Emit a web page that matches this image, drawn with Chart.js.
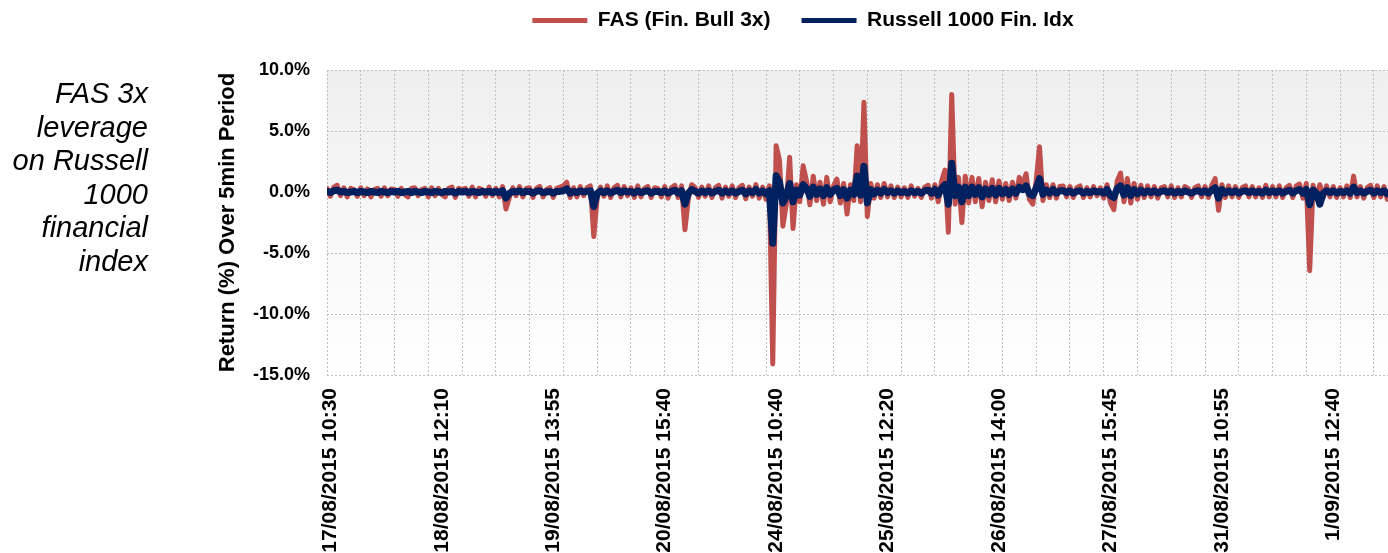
<!DOCTYPE html>
<html>
<head>
<meta charset="utf-8">
<script src="https://cdn.jsdelivr.net/npm/chart.js"></script>
<style>
  body { margin: 0; overflow: hidden; background: #fff; }
</style>
</head>
<body>
<canvas id="returns" width="1411" height="553"></canvas>
<script>
//Tick labels (one every 33 samples, samples are 15min apart)
const xLabels = ['17/08/2015 10:30', '18/08/2015 12:10', '19/08/2015 13:55', '20/08/2015 15:40', '24/08/2015 10:40',
    '25/08/2015 12:20', '26/08/2015 14:00', '27/08/2015 15:45', '31/08/2015 10:55', '1/09/2015 12:40'];
const gridEvery = 10;
const labelEvery = 33;
const labelOffset = 1;

//FAS (Fin. Bull 3x) return in %
const fas = [
    0.3, -0.35, 0.4, 0.55, -0.3, 0.35, -0.4, 0.3, 0.2, -0.35,
    0.35, -0.3, 0.25, -0.4, 0.2, 0.3, -0.35, 0.35, -0.3, 0.25,
    0.2, -0.35, 0.3, -0.2, -0.4, 0.3, 0.35, -0.3, 0.2, 0.3,
    -0.4, 0.35, -0.3, 0.3, -0.2, -0.4, 0.3, 0.4, -0.45, 0.3,
    0.2, 0.3, -0.35, 0.4, -0.4, 0.3, 0.2, -0.35, 0.4, -0.3,
    0.3, -0.4, 0.45, -1.4, -0.45, 0.35, -0.3, 0.45, -0.4, 0.3,
    0.35, -0.45, 0.3, 0.45, -0.4, 0.2, 0.35, -0.45, 0.3, 0.4,
    0.5, 0.8, -0.45, 0.35, -0.4, 0.45, -0.3, 0.35, 0.5, -3.65,
    -0.5, 0.4, -0.35, 0.5, -0.45, 0.35, 0.55, -0.4, 0.45, -0.3,
    0.35, -0.45, 0.5, -0.4, 0.3, 0.45, -0.45, 0.35, 0.3, -0.4,
    0.45, -0.5, 0.35, 0.55, -0.45, 0.5, -3.1, -0.5, 0.6, 0.35,
    -0.45, 0.4, -0.35, 0.5, -0.45, 0.35, 0.55, -0.5, 0.4, -0.35,
    0.5, -0.45, 0.35, 0.55, -0.55, 0.4, -0.35, 0.6, -0.5, 0.4,
    -0.6, 0.5, -14.1, 3.8, 2.6, -2.8, -1.0, 2.85, -3.0, 0.6,
    -0.8, 2.15, 0.9, -1.05, 1.3, -0.7, 0.8, -1.0, 1.2, -0.8,
    0.5, 1.05, -0.9, 0.7, -1.8, 0.6, -0.7, 3.8, -0.8, 7.35,
    -2.0, 0.7, -0.5, 0.6, -0.45, 0.7, -0.4, 0.5, -0.45, 0.4,
    -0.4, 0.35, -0.45, 0.5, -0.35, 0.3, -0.45, 0.4, 0.55, -0.5,
    0.6, -0.8, 0.9, 1.8, -3.3, 8.0, -1.0, 1.2, -2.5, 1.3,
    -0.9, 1.2, -0.8, 1.1, -1.2, 0.8, -0.7, 1.0, -0.8, 0.9,
    -0.6, 0.7, -0.7, 0.8, -0.5, 1.2, 0.6, 1.5, -0.6, -1.0,
    0.9, 3.7, -0.7, 0.6, -0.45, 0.6, -0.5, 0.45, 0.5, -0.4,
    0.45, -0.45, 0.35, 0.5, -0.45, 0.35, -0.4, 0.45, -0.3, 0.35,
    -0.5, 0.6, -0.9, -1.45, 0.9, 1.55, -0.8, 1.1, -0.9, 0.7,
    -0.6, 0.55, -0.45, 0.5, -0.4, 0.45, -0.5, 0.35, 0.45, -0.4,
    0.5, -0.45, 0.35, -0.4, 0.45, 0.3, -0.45, 0.35, 0.5, -0.4,
    0.45, -0.45, 0.55, 1.1, -1.5, 0.6, -0.45, 0.5, -0.4, 0.45,
    -0.45, 0.35, 0.5, -0.4, 0.45, -0.4, 0.35, -0.45, 0.55, -0.4,
    0.45, -0.4, 0.5, -0.45, 0.35, 0.55, -0.45, 0.5, 0.65, -0.5,
    0.7, -6.45, 0.55, -0.5, 0.6, -0.45, 0.5, -0.4, 0.45, -0.45,
    0.35, -0.4, 0.5, -0.45, 1.3, -0.4, 0.45, -0.5, 0.35, 0.55,
    -0.45, 0.5, -0.4, 0.45, -0.6, 0.35, 0.5, -0.65, 0.45, -0.75,
    0.35, -0.5
];

//Russell 1000 Fin. Idx return in %
const r1000 = [
    0.05, -0.05, 0.1, 0.15, 0.0, 0.05, -0.05, 0.0, 0.05, -0.05,
    0.05, 0.0, -0.05, 0.05, 0.0, -0.05, 0.05, 0.0, -0.05, 0.05,
    0.0, 0.05, -0.05, 0.0, 0.05, -0.05, 0.05, 0.0, -0.05, 0.05,
    0.0, -0.05, 0.05, 0.0, -0.05, 0.05, 0.0, 0.05, -0.1, 0.05,
    0.0, 0.05, -0.05, 0.05, 0.0, -0.05, 0.05, 0.0, 0.05, -0.05,
    0.05, -0.05, 0.1, -0.5, -0.1, 0.05, 0.0, 0.1, -0.05, 0.05,
    0.05, -0.1, 0.05, 0.1, -0.05, 0.0, 0.05, -0.1, 0.05, 0.05,
    0.1, 0.25, -0.1, 0.05, -0.05, 0.1, 0.0, 0.05, 0.1, -1.2,
    -0.1, 0.1, -0.05, 0.1, -0.1, 0.05, 0.15, -0.05, 0.1, 0.0,
    0.05, -0.1, 0.1, -0.05, 0.05, 0.1, -0.1, 0.05, 0.05, -0.05,
    0.1, -0.1, 0.05, 0.15, -0.1, 0.1, -1.0, -0.1, 0.2, 0.05,
    -0.1, 0.1, -0.05, 0.1, -0.1, 0.05, 0.15, -0.1, 0.1, -0.05,
    0.1, -0.1, 0.05, 0.15, -0.15, 0.1, -0.05, 0.2, -0.1, 0.1,
    -0.15, 0.1, -4.2, 1.33, 0.8, -0.9, -0.3, 0.7, -0.8, 0.15,
    -0.25, 0.6, 0.3, -0.35, 0.4, -0.2, 0.25, -0.3, 0.35, -0.2,
    0.15, 0.3, -0.3, 0.2, -0.5, 0.15, -0.2, 1.3, -0.25, 2.1,
    -0.9, 0.2, -0.15, 0.15, -0.1, 0.2, -0.05, 0.1, -0.1, 0.1,
    -0.05, 0.05, -0.1, 0.1, -0.05, 0.05, -0.1, 0.1, 0.15, -0.1,
    0.2, -0.25, 0.3, 0.6, -1.0, 2.35, -0.3, 0.4, -0.8, 0.4,
    -0.3, 0.4, -0.2, 0.35, -0.4, 0.25, -0.2, 0.3, -0.25, 0.3,
    -0.15, 0.2, -0.2, 0.25, -0.1, 0.4, 0.2, 0.5, -0.15, -0.3,
    0.3, 1.1, -0.2, 0.15, -0.1, 0.2, -0.1, 0.1, 0.1, -0.05,
    0.1, -0.1, 0.05, 0.1, -0.1, 0.05, -0.05, 0.1, 0.0, 0.05,
    -0.1, 0.2, -0.3, -0.45, 0.3, 0.5, -0.25, 0.35, -0.3, 0.2,
    -0.15, 0.15, -0.1, 0.1, -0.05, 0.1, -0.1, 0.05, 0.1, -0.05,
    0.1, -0.1, 0.05, -0.05, 0.1, 0.0, -0.1, 0.05, 0.1, -0.05,
    0.1, -0.1, 0.15, 0.35, -0.5, 0.2, -0.1, 0.1, -0.05, 0.1,
    -0.1, 0.05, 0.1, -0.05, 0.1, -0.05, 0.05, -0.1, 0.15, -0.05,
    0.1, -0.05, 0.1, -0.1, 0.05, 0.15, -0.1, 0.1, 0.2, -0.1,
    0.2, -1.05, 0.15, -0.1, -1.0, -0.1, 0.1, -0.05, 0.1, -0.1,
    0.05, -0.05, 0.1, -0.1, 0.4, -0.05, 0.1, -0.1, 0.05, 0.15,
    -0.1, 0.1, -0.05, 0.1, -0.15, 0.05, 0.1, -0.2, 0.1, -0.2,
    0.05, -0.1
];

const sideNote = ['FAS 3x', 'leverage', 'on Russell', '1000', 'financial', 'index'];

Chart.defaults.font.family = '"Liberation Sans", Arial, sans-serif';
Chart.defaults.color = '#000';

//Grey fade behind the plot area
const plotBackground = {
    id: 'plotBackground',
    beforeDraw: function (chart) {
        const a = chart.chartArea;
        const ctx = chart.ctx;
        const g = ctx.createLinearGradient(0, a.top, 0, a.bottom);
        g.addColorStop(0, '#efefef');
        g.addColorStop(1, '#ffffff');
        ctx.save();
        ctx.fillStyle = g;
        ctx.fillRect(a.left, a.top, a.right - a.left, a.bottom - a.top);
        ctx.restore();
    }
};

//Italic note on the left
const noteText = {
    id: 'noteText',
    afterDraw: function (chart) {
        const ctx = chart.ctx;
        ctx.save();
        ctx.font = 'italic 29px "Liberation Sans", Arial, sans-serif';
        ctx.fillStyle = '#000';
        ctx.textAlign = 'right';
        ctx.textBaseline = 'alphabetic';
        sideNote.forEach(function (line, i) {
            ctx.fillText(line, 148, 103 + i * 33.6);
        });
        ctx.restore();
    }
};

//Make room between legend and plot
const legendHeight = {
    id: 'legendHeight',
    beforeLayout: function (chart) {
        const lg = chart.legend;
        if (lg && !lg._patched) {
            const fit = lg.fit;
            lg.fit = function () {
                fit.call(this);
                this.height = 70;
            };
            lg._patched = true;
        }
    }
};

function labelFor(value) {
    const k = (value - labelOffset) / labelEvery;
    return Number.isInteger(k) && k >= 0 && k < xLabels.length ? xLabels[k] : '';
}

const ctx = document.getElementById('returns').getContext('2d');
const myChart = new Chart(ctx, {
    type: 'line',
    data: {
        datasets: [{
            label: 'FAS (Fin. Bull 3x)',
            data: fas.map(function (v, i) { return { x: i, y: v }; }),
            borderColor: '#c0504d',
            backgroundColor: '#c0504d',
            borderWidth: 5,
            pointRadius: 0,
            borderJoinStyle: 'round',
            borderCapStyle: 'round',
            order: 2
        }, {
            label: 'Russell 1000 Fin. Idx',
            data: r1000.map(function (v, i) { return { x: i, y: v }; }),
            borderColor: '#002060',
            backgroundColor: '#002060',
            borderWidth: 7,
            pointRadius: 0,
            borderJoinStyle: 'round',
            borderCapStyle: 'round',
            order: 1
        }]
    },
    options: {
        responsive: false,
        animation: false,
        layout: { padding: { left: 195, right: 0, top: 0, bottom: 0 } },
        plugins: {
            tooltip: { enabled: false },
            legend: {
                position: 'top',
                labels: {
                    font: { size: 21, weight: 'bold' },
                    boxWidth: 55,
                    boxHeight: 5,
                    padding: 10,
                    useBorderRadius: true,
                    borderRadius: 2.5,
                    generateLabels: function (chart) {
                        return chart.data.datasets.map(function (ds, i) {
                            return {
                                text: i === 0 ? ds.label + '\u2003' : ds.label,
                                fillStyle: ds.borderColor,
                                strokeStyle: ds.borderColor,
                                lineWidth: 0,
                                hidden: false,
                                datasetIndex: i,
                                fontColor: '#000'
                            };
                        });
                    }
                }
            }
        },
        scales: {
            x: {
                type: 'linear',
                min: 0,
                max: fas.length - 1,
                afterBuildTicks: function (scale) {
                    const ticks = [];
                    for (let i = 0; i < fas.length; i++) {
                        if (i % gridEvery === 0 || labelFor(i) !== '') ticks.push({ value: i });
                    }
                    scale.ticks = ticks;
                },
                afterFit: function (scale) {
                    scale.height = 178;
                    scale.paddingLeft = 0;
                    scale.paddingRight = 0;
                },
                grid: {
                    drawTicks: false,
                    color: function (c) {
                        return c.tick && c.tick.value % gridEvery === 0 ? '#bfbfbf' : 'rgba(0,0,0,0)';
                    }
                },
                border: { display: false, dash: [2, 2] },
                ticks: {
                    autoSkip: false,
                    maxRotation: 90,
                    minRotation: 90,
                    padding: 13,
                    font: { size: 21, weight: 'bold' },
                    callback: function (value) { return labelFor(value); }
                }
            },
            y: {
                min: -15,
                max: 10,
                afterFit: function (scale) { scale.width = 132; },
                grid: { drawTicks: false, color: '#bfbfbf' },
                border: { display: false, dash: [2, 2] },
                ticks: {
                    stepSize: 5,
                    padding: 17,
                    font: { size: 18, weight: 'bold' },
                    callback: function (v) { return v.toFixed(1) + '%'; }
                },
                title: {
                    display: true,
                    text: 'Return (%) Over 5min Period',
                    padding: { top: 20, bottom: 0 },
                    font: { size: 22, weight: 'bold' }
                }
            }
        }
    },
    plugins: [plotBackground, noteText, legendHeight]
});
</script>
</body>
</html>
